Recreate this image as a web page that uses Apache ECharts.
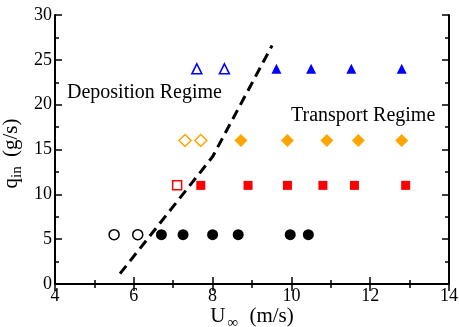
<!DOCTYPE html>
<html>
<head>
<meta charset="utf-8">
<script src="https://cdn.jsdelivr.net/npm/echarts@6/dist/echarts.min.js"></script>
<style>
  html, body { margin: 0; padding: 0; background: #fff; }
  #chart { width: 459px; height: 327px; }
</style>
</head>
<body>
<div id="chart"></div>
<script>
// q = 5.5 g/s, circles
var circleOpen = [[5.5, 5.5], [6.1, 5.5]];
var circleFill = [[6.7, 5.5], [7.25, 5.5], [8.0, 5.5], [8.65, 5.5], [9.97, 5.5], [10.43, 5.5]];
// q = 11 g/s, squares
var squareOpen = [[7.1, 11]];
var squareFill = [[7.7, 11], [8.9, 11], [9.9, 11], [10.8, 11], [11.6, 11], [12.9, 11]];
// q = 16 g/s, diamonds
var diamondOpen = [[7.3, 16], [7.7, 16]];
var diamondFill = [[8.72, 16], [9.9, 16], [10.9, 16], [11.7, 16], [12.8, 16]];
// q = 24 g/s, triangles
var triOpen = [[7.6, 24], [8.3, 24]];
var triFill = [[9.62, 24], [10.5, 24], [11.52, 24], [12.8, 24]];
// boundary between regimes
var boundary = [[5.65, 1.15], [8.0, 14.2], [9.51, 26.6]];

var serif = 'Liberation Serif';
var font = 18;

var chart = echarts.init(document.getElementById('chart'));

function axisX(pos, labels) {
  return {
    type: 'value', position: pos, min: 4, max: 14, interval: 2,
    name: labels ? '{a|U}{sub|∞}{a| (m/s)}' : '',
    nameLocation: 'middle', nameGap: 18, nameMoveOverlap: false,
    nameTextStyle: {
      rich: {
        a: { fontFamily: serif, fontSize: 21, color: '#000' },
        sub: { fontFamily: serif, fontSize: 15, color: '#000', padding: [14, 6, 0, 2] }
      }
    },
    axisLine: { show: true, lineStyle: { color: '#000', width: 2 } },
    axisTick: { show: true, inside: true, length: 7, lineStyle: { color: '#000', width: 1.5 } },
    minorTick: { show: true, splitNumber: 2, length: 4, lineStyle: { color: '#000', width: 1.5 } },
    axisLabel: { show: labels, fontFamily: serif, fontSize: font, color: '#000', margin: 3 },
    splitLine: { show: false }
  };
}

function axisY(pos, labels) {
  return {
    type: 'value', position: pos, min: 0, max: 30, interval: 5,
    name: labels ? '{a|q}{sub|in}{a| (g/s)}' : '',
    nameLocation: 'middle', nameGap: 30, nameRotate: 90, nameMoveOverlap: false,
    nameTextStyle: {
      padding: [0, 8, 0, 0],
      rich: {
        a: { fontFamily: serif, fontSize: 21, color: '#000' },
        sub: { fontFamily: serif, fontSize: 15, color: '#000', padding: [12, 4, 0, 0] }
      }
    },
    axisLine: { show: true, lineStyle: { color: '#000', width: 2 } },
    axisTick: { show: true, inside: true, length: 7, lineStyle: { color: '#000', width: 1.5 } },
    minorTick: { show: true, splitNumber: 2, length: 4, lineStyle: { color: '#000', width: 1.5 } },
    axisLabel: { show: labels, fontFamily: serif, fontSize: font, color: '#000', margin: 3 },
    splitLine: { show: false }
  };
}

function pts(data, symbol, size, color, open) {
  return {
    type: 'scatter', data: data, symbol: symbol, symbolSize: size,
    xAxisIndex: 0, yAxisIndex: 0, silent: true,
    itemStyle: open
      ? { color: '#fff', borderColor: color, borderWidth: 1.5, opacity: 1 }
      : { color: color, opacity: 1 }
  };
}

chart.setOption({
  animation: false,
  backgroundColor: '#fff',
  grid: { left: 55, right: 10, top: 15, bottom: 43, containLabel: false, outerBoundsMode: 'none' },
  xAxis: [axisX('bottom', true), axisX('top', false)],
  yAxis: [axisY('left', true), axisY('right', false)],
  graphic: [
    { type: 'text', left: 67, top: 83, style: { text: 'Deposition Regime', font: '20px "Liberation Serif"', fill: '#000' } },
    { type: 'text', left: 291, top: 106, style: { text: 'Transport Regime', font: '20px "Liberation Serif"', fill: '#000' } }
  ],
  series: [
    {
      type: 'line', data: boundary, symbol: 'none', silent: true,
      lineStyle: { color: '#000', width: 3, type: [10, 6] }
    },
    pts(circleOpen, 'circle', 10, '#000', true),
    pts(circleFill, 'circle', 11, '#000', false),
    pts(squareOpen, 'rect', 9, '#f00', true),
    pts(squareFill, 'rect', 9, '#f00', false),
    pts(diamondOpen, 'diamond', 12, '#ffa500', true),
    pts(diamondFill, 'diamond', 13, '#ffa500', false),
    pts(triOpen, 'triangle', 10, '#00f', true),
    pts(triFill, 'triangle', 10, '#00f', false)
  ]
});
</script>
</body>
</html>
